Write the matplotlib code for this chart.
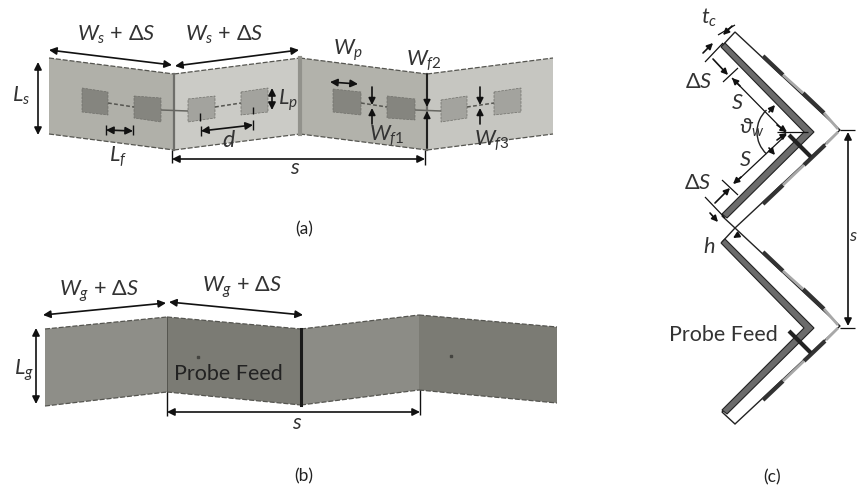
import matplotlib
matplotlib.use("Agg")
import matplotlib.pyplot as plt
from matplotlib.patches import Polygon, Arc

plt.rcParams['font.family'] = ['Lato', 'Open Sans', 'DejaVu Sans']
plt.rcParams['mathtext.fontset'] = 'custom'
plt.rcParams['mathtext.rm'] = 'Lato'
plt.rcParams['mathtext.it'] = 'Lato:italic'
plt.rcParams['mathtext.bf'] = 'Lato:bold'
plt.rcParams['mathtext.fallback'] = 'stixsans'

# ---- panel (a) -----
sub_walls = [
    ([(49,58),(174,74),(174,150),(49,134)], '#b0b0a9'),
    ([(174,74),(300,58),(300,134),(174,150)], '#cbcbc6'),
    ([(300,58),(427,74),(427,150),(300,134)], '#b2b2ab'),
    ([(427,74),(553,58),(553,134),(427,150)], '#c6c6c1'),
]
fold_lines_a = [((174,74),(174,150),'#6e6e6a',1.6), ((300,58),(300,134),'#92928c',3.0),
                ((427,74),(427,150),'#6e6e6a',1.6)]
patches_a = [
    ([(82,88),(108,92),(108,115),(82,112)], '#85857f'),
    ([(134,96),(161,98),(161,122),(134,118)], '#85857f'),
    ([(188,99),(215,96),(215,118),(188,122)], '#a3a39e'),
    ([(241,92),(268,88),(268,112),(241,115)], '#a3a39e'),
    ([(333,89),(361,92),(361,115),(333,112)], '#85857f'),
    ([(387,96),(415,99),(415,120),(387,118)], '#85857f'),
    ([(441,100),(467,96),(467,118),(441,122)], '#a3a39e'),
    ([(494,92),(521,88),(521,112),(494,115)], '#a3a39e'),
]
feed_solid = [((161,110),(188,111)), ((415,110),(441,111))]
feed_dash = [((108,103),(134,107)), ((215,107),(241,103)), ((361,103),(387,107)), ((467,107),(494,103))]
arrows_a = [
    ((49,50),(172,65)), ((175,66),(299,50)), ((38,62),(38,135)), ((106,130),(133,131)),
    ((201,131),(253,125)), ((272,88),(272,110)), ((172,159),(425,159)), ((330,82),(358,84)),
]
single_a = [
    ((372,87),(372,105)), ((372,124),(372,108)), ((427,74),(427,107)), ((427,148),(427,111)),
    ((480,87),(480,105)), ((480,124),(480,108)),
]
ticks_a = [((106,125),(106,135)), ((133,125),(133,135)), ((201,126),(201,136)), ((253,120),(253,130)),
           ((172,150),(172,163)), ((425,150),(425,165)), ((200,113),(200,121)), ((253,107),(253,114))]
labels_a = [
    (116,35,r'$W_s$ + $\Delta S$',17), (224,35,r'$W_s$ + $\Delta S$',17), (21,96,r'$L_s$',17),
    (288,100,r'$L_p$',17), (229,140,r'$d$',18), (118,157,r'$L_f$',17), (295,168,r'$s$',17),
    (348,50,r'$W_p$',17), (424,61,r'$W_{f2}$',17), (387,136,r'$W_{f1}$',17), (492,141,r'$W_{f3}$',17),
]

# ---- panel (b) -----
ground_walls = [
    ([(45,329),(167,317),(167,392),(45,406)], '#8e8e88'),
    ([(167,317),(301,329),(301,405),(167,392)], '#7b7b74'),
    ([(301,329),(419,315),(419,390),(301,405)], '#8c8c86'),
    ([(419,315),(557,327),(557,403),(419,390)], '#7b7b74'),
]
arrows_b = [((43,315),(166,303)), ((169,302),(303,315)), ((36,328),(36,404)), ((167,412),(420,412))]
ticks_b = [((167,392),(167,416)), ((420,390),(420,415))]
labels_b = [(99,291,r'$W_g$ + $\Delta S$',17), (242,287,r'$W_g$ + $\Delta S$',17),
            (24,370,r'$L_g$',17), (297,423,r'$s$',17)]
probe_dots = [(198,357),(451,356)]

# ---- panel (c) -----
chevron_tops = [0, 196]
outer_box = [(735,32),(840,130),(735,228),(722,216),(813,132),(722,46)]
grey_band = [(725,43),(814,132),(727,218),(722,214),(804,132),(721,47)]
strips_dark = [((763,56),(783,75)), ((803,93),(824,113)), ((825,145),(804,165)), ((783,185),(763,204))]
strips_light = [((783,75),(803,93)), ((824,113),(838,129)), ((838,132),(826,144)), ((804,165),(783,185))]
probe_line = [(789,135),(811,157)]
c_thin = [
    ((705,62),(723,43)), ((718,35),(735,25)), ((723,82),(738,68)), ((732,78),(786,133)),
    ((735,183),(786,135)), ((722,180),(738,195)), ((705,197),(725,218)), ((777,132),(808,132)),
    ((840,130),(855,130)), ((840,328),(855,328)),
]
c_arrows = [((732,26),(723,35)), ((703,53),(713,43)), ((713,59),(728,75)), ((715,203),(730,188)),
            ((710,213),(718,222)), ((777,125),(787,132)), ((777,140),(787,133)),
            ((740,86),(732,78)), ((741,177),(733,184)), ((769,112),(775,105)), ((769,148),(775,155)),
            ((738,235),(733,238))]
s_arrow = ((848,132),(848,326))
labels_c = [(709,18,r'$t_c$',17), (699,82,r'$\Delta S$',17), (737,103,r'$S$',17),
            (752,128,r'$\vartheta_w$',17), (745,160,r'$S$',17), (698,183,r'$\Delta S$',17),
            (709,247,r'$h$',17), (853,236,r'$s$',14)]

fig = plt.figure(figsize=(8.59,4.94), dpi=100)
ax = fig.add_axes([0,0,1,1])
ax.set_xlim(0,859); ax.set_ylim(494,0); ax.axis('off')

def arrow(a, b, style='<|-|>', ms=11, lw=1.2):
    ax.annotate('', xy=b, xytext=a, arrowprops=dict(arrowstyle=style, color='#111111', lw=lw,
                mutation_scale=ms, shrinkA=0, shrinkB=0), zorder=6)

def segs(items, color='#111111', lw=1.0, ls='-', z=5):
    for a, b in items:
        ax.plot([a[0],b[0]], [a[1],b[1]], color=color, lw=lw, ls=ls, zorder=z, solid_capstyle='butt')

def labels(items):
    for x, y, t, fs in items:
        ax.text(x, y, t, fontsize=fs*0.92, ha='center', va='center', color='#333333', zorder=7)

for pts, c in sub_walls + ground_walls:
    ax.add_patch(Polygon(pts, closed=True, fc=c, ec='none', zorder=1))
    for i, j in ((0,1),(3,2)):
        ax.plot([pts[i][0],pts[j][0]], [pts[i][1],pts[j][1]], color='#555550', lw=0.9, ls=(0,(4,1.5)), zorder=2)
for a, b, c, lw in fold_lines_a:
    ax.plot([a[0],b[0]], [a[1],b[1]], color=c, lw=lw, zorder=2)
for pts, c in patches_a:
    ax.add_patch(Polygon(pts, closed=True, fc=c, ec='#6f6f6a', lw=0.5, ls='--', zorder=3))
segs(feed_solid, color='#666661', lw=1.1, z=3)
segs(feed_dash, color='#555550', lw=1.1, ls=(0,(2.5,1.5)), z=3)
for a, b in arrows_a + arrows_b:
    arrow(a, b)
for a, b in single_a:
    arrow(a, b, style='-|>', ms=10)
segs(ticks_a); segs(ticks_b)

ax.plot([167,167],[317,392], color='#55554f', lw=0.7, zorder=2)
ax.plot([301,301],[329,405], color='#1a1a1a', lw=2.2, zorder=2)
for x, y in probe_dots:
    ax.plot([x],[y], 's', ms=1.6, color='#444440', zorder=3)

for dy in chevron_tops:
    ax.add_patch(Polygon([(x,y+dy) for x,y in outer_box], closed=True, fc='white', ec='#222222', lw=1.0, zorder=1))
    ax.add_patch(Polygon([(x,y+dy) for x,y in grey_band], closed=True, fc='#6b6b6b', ec='#222222', lw=0.8, zorder=2))
    segs([((a[0],a[1]+dy),(b[0],b[1]+dy)) for a,b in strips_dark], color='#333333', lw=3.0, z=3)
    segs([((a[0],a[1]+dy),(b[0],b[1]+dy)) for a,b in strips_light], color='#a8a8a8', lw=2.0, z=3)
    segs([((probe_line[0][0],probe_line[0][1]+dy),(probe_line[1][0],probe_line[1][1]+dy))], color='#222222', lw=3.0, z=4)
segs(c_thin, lw=0.9)
for a, b in c_arrows:
    arrow(a, b, style='-|>', ms=9)
ax.add_patch(Arc((787,132), 60, 60, angle=0, theta1=133, theta2=227, color='#222222', lw=1.0, zorder=5))
arrow(s_arrow[0], s_arrow[1])

labels(labels_a); labels(labels_b); labels(labels_c)
ax.text(228,374,'Probe Feed', fontsize=15.5, ha='center', va='center', color='#222222', zorder=7)
ax.text(723,335,'Probe Feed', fontsize=15.5, ha='center', va='center', color='#333333', zorder=7)
for x, y, t in [(304,229,'(a)'),(304,476,'(b)'),(772,477,'(c)')]:
    ax.text(x, y, t, fontsize=12.5, ha='center', va='center', color='#222222')

fig.savefig('out.png', dpi=100)
